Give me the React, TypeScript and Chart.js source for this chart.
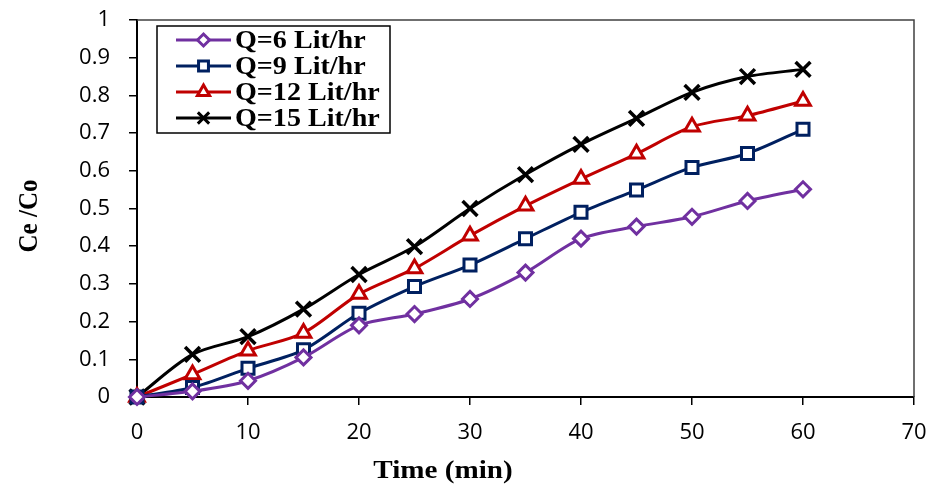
import React, { useEffect, useRef } from "react";
import { Chart, registerables } from "chart.js";
import { drawPoint } from "chart.js/helpers";

Chart.register(...registerables);

const timeMin = [0, 5, 10, 15, 20, 25, 30, 35, 40, 45, 50, 55, 60];
const q6 = [0, 0.015, 0.043, 0.105, 0.19, 0.22, 0.26, 0.33, 0.42, 0.452, 0.478, 0.52, 0.551];
const q9 = [0, 0.025, 0.076, 0.125, 0.222, 0.293, 0.35, 0.42, 0.49, 0.549, 0.609, 0.646, 0.71];
const q12 = [0, 0.06, 0.123, 0.17, 0.273, 0.341, 0.428, 0.507, 0.578, 0.645, 0.717, 0.746, 0.785];
const q15 = [0, 0.113, 0.16, 0.233, 0.325, 0.399, 0.5, 0.59, 0.67, 0.739, 0.808, 0.85, 0.869];
const seriesLabels = ["Q=6 Lit/hr", "Q=9 Lit/hr", "Q=12 Lit/hr", "Q=15 Lit/hr"];
const xTitle = "Time (min)";
const yTitle = "Ce /Co";

const colors = ["#7030A0", "#002060", "#C00000", "#000000"];
const styles: any[] = ["rectRot", "rect", "triangle", "crossRot"];
const radii = [7.5, 8.5, 8.5, 10.5];
const legendRadii = [6, 7, 7, 8];

function stretchedText(ctx: any, text: string, x: number, y: number, sx: number) {
  ctx.save();
  ctx.translate(x, y);
  ctx.scale(sx, 1);
  ctx.fillText(text, 0, 0);
  ctx.restore();
}

const overlayPlugin = {
  id: "overlay",
  afterDraw(chart: any) {
    const { ctx, chartArea } = chart;
    const { left, right, top, bottom } = chartArea;
    ctx.save();
    // top & right frame
    ctx.strokeStyle = "#404040";
    ctx.lineWidth = 1.5;
    ctx.beginPath();
    ctx.moveTo(left, top);
    ctx.lineTo(right, top);
    ctx.lineTo(right, bottom);
    ctx.stroke();

    // axis titles
    ctx.fillStyle = "#000";
    ctx.font = "bold 26px 'Liberation Serif', 'Times New Roman', serif";
    ctx.textAlign = "center";
    ctx.textBaseline = "middle";
    stretchedText(ctx, xTitle, 443, 471, 1.12);
    ctx.save();
    ctx.translate(30, 216);
    ctx.rotate(-Math.PI / 2);
    ctx.scale(1, 1.12);
    ctx.font = "bold 25px 'Liberation Serif', 'Times New Roman', serif";
    ctx.fillText(yTitle, 0, 0);
    ctx.restore();

    // legend box
    const bx = 157, by = 26, bw = 233, bh = 107;
    ctx.fillStyle = "#fff";
    ctx.fillRect(bx, by, bw, bh);
    ctx.strokeStyle = "#000";
    ctx.lineWidth = 1.5;
    ctx.strokeRect(bx, by, bw, bh);
    const rowY = [40, 66, 92, 118];
    ctx.font = "bold 26px 'Liberation Serif', 'Times New Roman', serif";
    ctx.textAlign = "left";
    ctx.textBaseline = "middle";
    for (let i = 0; i < 4; i++) {
      const y = rowY[i];
      ctx.strokeStyle = colors[i];
      ctx.lineWidth = 3;
      ctx.beginPath();
      ctx.moveTo(176, y);
      ctx.lineTo(231, y);
      ctx.stroke();
      ctx.fillStyle = "#fff";
      ctx.strokeStyle = colors[i];
      ctx.lineWidth = 3;
      drawPoint(ctx, { pointStyle: styles[i], radius: legendRadii[i], rotation: 0, borderWidth: 3 } as any, 203.5, y);
      ctx.fillStyle = "#000";
      stretchedText(ctx, seriesLabels[i], 235, y + 1, 1.08);
    }
    ctx.restore();
  },
};

export default function App() {
  const canvasRef = useRef<HTMLCanvasElement | null>(null);

  useEffect(() => {
    document.body.style.margin = "0";
    const canvas = canvasRef.current;
    if (!canvas) return;
    const allSeries = [q6, q9, q12, q15];
    const datasets = allSeries.map((s, i) => ({
      label: seriesLabels[i],
      data: timeMin.map((t, j) => ({ x: t, y: s[j] })),
      borderColor: colors[i],
      backgroundColor: "#ffffff",
      borderWidth: 3,
      pointStyle: styles[i],
      pointRadius: radii[i],
      pointBorderWidth: i === 3 ? 3.5 : 3,
      pointBorderColor: colors[i],
      pointBackgroundColor: "#ffffff",
      tension: 0.3,
      clip: false as any,
    }));
    const tickFont = { family: "'Open Sans', sans-serif", size: 22 };
    const chart = new Chart(canvas, {
      type: "line",
      data: { datasets },
      options: {
        animation: false,
        responsive: false,
        layout: { padding: { top: 20, right: 16, left: 0, bottom: 0 } },
        plugins: { legend: { display: false }, tooltip: { enabled: false } },
        scales: {
          x: {
            type: "linear",
            min: 0,
            max: 70,
            ticks: { stepSize: 10, color: "#000", font: tickFont, padding: 15, maxRotation: 0 },
            grid: { display: true, drawOnChartArea: false, drawTicks: true, tickLength: 8, color: "#000", lineWidth: 1.5 },
            border: { display: true, color: "#000", width: 2 },
            afterFit: (s: any) => { s.height = 89; s.paddingLeft = 0; s.paddingRight = 0; },
          },
          y: {
            type: "linear",
            min: 0,
            max: 1,
            ticks: {
              stepSize: 0.1,
              color: "#000",
              font: tickFont,
              padding: 19,
              callback: (v: any) => String(Math.round(Number(v) * 10) / 10),
            },
            grid: { display: true, drawOnChartArea: false, drawTicks: true, tickLength: 8, color: "#000", lineWidth: 1.5 },
            border: { display: true, color: "#000", width: 2 },
            afterFit: (s: any) => { s.width = 137; s.paddingTop = 0; s.paddingBottom = 0; },
          },
        },
      },
      plugins: [overlayPlugin],
    });
    return () => chart.destroy();
  }, []);

  return (
    <div style={{ width: 930, height: 486, background: "#fff" }}>
      <canvas ref={canvasRef} width={930} height={486} style={{ display: "block", width: 930, height: 486 }} />
    </div>
  );
}
